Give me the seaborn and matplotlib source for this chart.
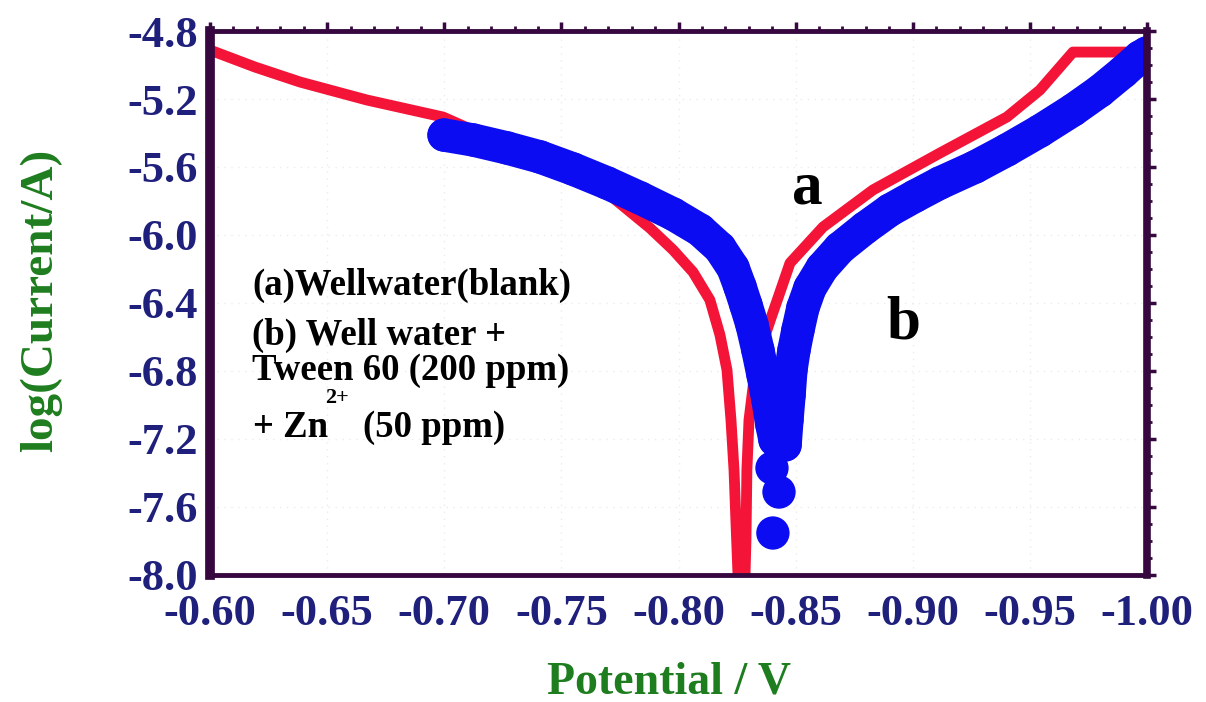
import matplotlib
matplotlib.use("Agg")
import matplotlib.pyplot as plt
import seaborn as sns
import pandas as pd
from matplotlib.ticker import FixedLocator, MultipleLocator, FixedFormatter

# ---- data ----
red_x = [-0.6000, -0.6192, -0.6384, -0.6670, -0.6995, -0.7409, -0.7665, -0.7878, -0.7977,
         -0.8062, -0.8134, -0.8177, -0.8207, -0.8224, -0.8237, -0.8245, -0.8254, -0.8258,
         -0.8280, -0.8288, -0.8292, -0.8301, -0.8322, -0.8356, -0.8395, -0.8429, -0.8476,
         -0.8617, -0.8830, -0.9116, -0.9402, -0.9543, -0.9684, -1.0000]
red_y = [-4.912, -5.012, -5.100, -5.206, -5.306, -5.559, -5.718, -5.959, -6.088,
         -6.218, -6.382, -6.588, -6.794, -7.088, -7.382, -7.677, -8.000, -8.206,
         -8.206, -7.794, -7.382, -7.088, -6.853, -6.647, -6.488, -6.353, -6.165,
         -5.953, -5.735, -5.518, -5.306, -5.147, -4.924, -4.924]

blue_left_x = [-0.6999, -0.7123, -0.7268, -0.7409, -0.7550, -0.7695, -0.7836, -0.7977,
               -0.8092, -0.8177, -0.8233, -0.8263, -0.8288, -0.8314, -0.8339, -0.8361,
               -0.8382, -0.8399, -0.8412]
blue_left_y = [-5.412, -5.441, -5.488, -5.541, -5.612, -5.694, -5.782, -5.877,
               -5.971, -6.077, -6.194, -6.306, -6.412, -6.529, -6.677, -6.824,
               -6.971, -7.118, -7.206]
blue_sparse_x = [-0.8399, -0.8429, -0.8403]
blue_sparse_y = [-7.371, -7.512, -7.753]
blue_right_x = [-0.8455, -0.8463, -0.8472, -0.8480, -0.8493, -0.8510, -0.8531, -0.8561,
                -0.8613, -0.8689, -0.8796, -0.8903, -0.9010, -0.9116, -0.9266, -0.9402,
                -0.9543, -0.9684, -0.9799, -0.9898, -0.9970, -1.0000]
blue_right_y = [-7.235, -7.088, -6.941, -6.794, -6.677, -6.559, -6.429, -6.312,
                -6.194, -6.077, -5.959, -5.853, -5.771, -5.694, -5.600, -5.500,
                -5.388, -5.265, -5.153, -5.041, -4.953, -4.929]

x_ticks = [-0.60, -0.65, -0.70, -0.75, -0.80, -0.85, -0.90, -0.95, -1.00]
x_tick_labels = ["-0.60", "-0.65", "-0.70", "-0.75", "-0.80", "-0.85", "-0.90", "-0.95", "-1.00"]
y_ticks = [-8.0, -7.6, -7.2, -6.8, -6.4, -6.0, -5.6, -5.2, -4.8]
y_tick_labels = ["-8.0", "-7.6", "-7.2", "-6.8", "-6.4", "-6.0", "-5.6", "-5.2", "-4.8"]

legend_lines = ["(a)Wellwater(blank)", "(b) Well water +", "Tween 60 (200 ppm)"]

# ---- style ----
sns.set_style("white")
plt.rcParams["font.family"] = ["Liberation Serif", "DejaVu Serif"]
plt.rcParams["font.weight"] = "bold"

FRAME = "#36083f"
NAVY = "#1f1f7c"
GREEN = "#1e7d1e"
RED = "#f31438"
BLUE = "#0c0cf2"

fig = plt.figure(figsize=(12.06, 7.02), dpi=100)
ax = fig.add_axes([210/1206, 1-575/702, 937/1206, 544/702])

red_df = pd.DataFrame({"x": red_x, "y": red_y})
sns.lineplot(data=red_df, x="x", y="y", sort=False, color=RED, linewidth=7.8,
             ax=ax, zorder=3, estimator=None)

bl = pd.DataFrame({"x": blue_left_x, "y": blue_left_y})
br = pd.DataFrame({"x": blue_right_x, "y": blue_right_y})
for d in (bl, br):
    sns.lineplot(data=d, x="x", y="y", sort=False, color=BLUE, linewidth=24,
                 ax=ax, zorder=4, estimator=None, solid_capstyle="round",
                 solid_joinstyle="round")
allb = pd.DataFrame({"x": blue_left_x + blue_sparse_x + blue_right_x,
                     "y": blue_left_y + blue_sparse_y + blue_right_y})
sns.scatterplot(data=allb, x="x", y="y", color=BLUE, s=24**2, linewidth=0,
                edgecolor="none", ax=ax, zorder=5)

ax.set_xlim(-0.60, -1.00)
ax.set_ylim(-8.0, -4.8)

ax.xaxis.set_major_locator(FixedLocator(x_ticks))
ax.xaxis.set_major_formatter(FixedFormatter(x_tick_labels))
ax.xaxis.set_minor_locator(MultipleLocator(0.01))
ax.yaxis.set_major_locator(FixedLocator(y_ticks))
ax.yaxis.set_major_formatter(FixedFormatter(y_tick_labels))
ax.yaxis.set_minor_locator(MultipleLocator(0.1))

ax.grid(True, which="major", color="#ececec", linestyle=(0, (1, 4)), linewidth=1.0)
ax.set_axisbelow(True)

for side, w in (("left", 7.0), ("right", 5.5), ("top", 3.5), ("bottom", 3.5)):
    ax.spines[side].set_visible(True)
    ax.spines[side].set_color(FRAME)
    ax.spines[side].set_linewidth(w)
    ax.spines[side].set_zorder(6)

ax.tick_params(which="both", direction="out", top=True, right=True, color=FRAME)
ax.tick_params(which="major", length=6.5, width=2.5)
ax.tick_params(which="minor", length=3.5, width=2.0)
ax.tick_params(axis="x", which="major", labelsize=32, labelcolor=NAVY, pad=7)
ax.tick_params(axis="y", which="major", labelsize=32, labelcolor=NAVY, pad=2)
for lab in ax.get_xticklabels() + ax.get_yticklabels():
    lab.set_fontweight("bold")

ax.set_xlabel("Potential / V", fontsize=33, fontweight="bold", color=GREEN)
ax.set_ylabel("log(Current/A)", fontsize=34, fontweight="bold", color=GREEN)
ax.xaxis.set_label_coords(0.49, (575-662)/544)
ax.yaxis.set_label_coords((62-210)/937, (575-300)/544)

def axpos(px, py):
    return (px-210)/937, (575-py)/544

legend_base = [295, 345, 380]
for txt, by in zip(legend_lines, legend_base):
    x0, y0 = axpos(252, by)
    ax.text(x0, y0, txt, transform=ax.transAxes, fontsize=26.5, fontweight="bold",
            color="black", va="baseline", ha="left", zorder=7)
x0, y0 = axpos(253, 437)
ax.text(x0, y0, "+ Zn", transform=ax.transAxes, fontsize=26.5, fontweight="bold",
        color="black", va="baseline", ha="left", zorder=7)
x0, y0 = axpos(325, 403)
ax.text(x0, y0, "2+", transform=ax.transAxes, fontsize=16, fontweight="bold",
        color="black", va="baseline", ha="left", zorder=7)
x0, y0 = axpos(363, 437)
ax.text(x0, y0, "(50 ppm)", transform=ax.transAxes, fontsize=26.5, fontweight="bold",
        color="black", va="baseline", ha="left", zorder=7)

x0, y0 = axpos(792, 203)
ax.text(x0, y0, "a", transform=ax.transAxes, fontsize=44, fontweight="bold",
        color="black", va="baseline", ha="left", zorder=7)
x0, y0 = axpos(886, 338)
ax.text(x0, y0, "b", transform=ax.transAxes, fontsize=44, fontweight="bold",
        color="black", va="baseline", ha="left", zorder=7)

fig.savefig("out.png", dpi=100, facecolor="white")
